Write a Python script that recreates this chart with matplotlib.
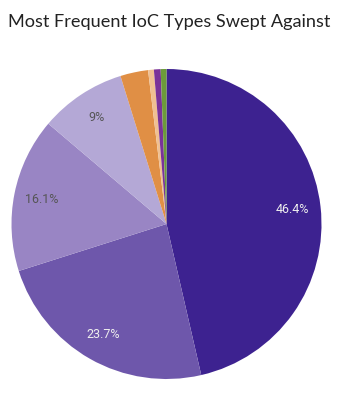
import matplotlib

matplotlib.use("Agg")
import matplotlib.pyplot as plt

# IoC type shares (percent), clockwise from 12 o'clock
shares = [46.4, 23.7, 16.1, 9.0, 2.9, 0.6, 0.7, 0.6]
labels = ["46.4%", "23.7%", "16.1%", "9%", "", "", "", ""]
colors = ["#3d2290", "#6e57ab", "#9985c4", "#b4a8d6",
          "#e08f45", "#f0c092", "#7a3399", "#6c9b3a"]
text_colors = ["#eeeeee", "#eeeeee", "#555555", "#555555",
               "#555555", "#555555", "#555555", "#555555"]

W, H = 339, 397
fig = plt.figure(figsize=(W / 100, H / 100), dpi=100)

cx, cy, r = 166.5, 224, 155
ax = fig.add_axes([(cx - r) / W, (H - cy - r) / H, 2 * r / W, 2 * r / H])

wedges, texts = ax.pie(shares, labels=labels, colors=colors, startangle=90,
                       counterclock=False, labeldistance=0.82,
                       wedgeprops={"linewidth": 0},
                       textprops={"fontsize": 9, "family": "Roboto"})
for t, c in zip(texts, text_colors):
    t.set_color(c)
    t.set_ha("center")
    t.set_va("center")
ax.set_xlim(-1, 1)
ax.set_ylim(-1, 1)
ax.set_aspect("equal")

fig.text(0.5, 1 - 22 / H, "Most Frequent IoC Types Swept Against",
         ha="center", va="center", fontsize=13.1, family="Lato", color="#222222")

fig.savefig("out.png", dpi=100)
